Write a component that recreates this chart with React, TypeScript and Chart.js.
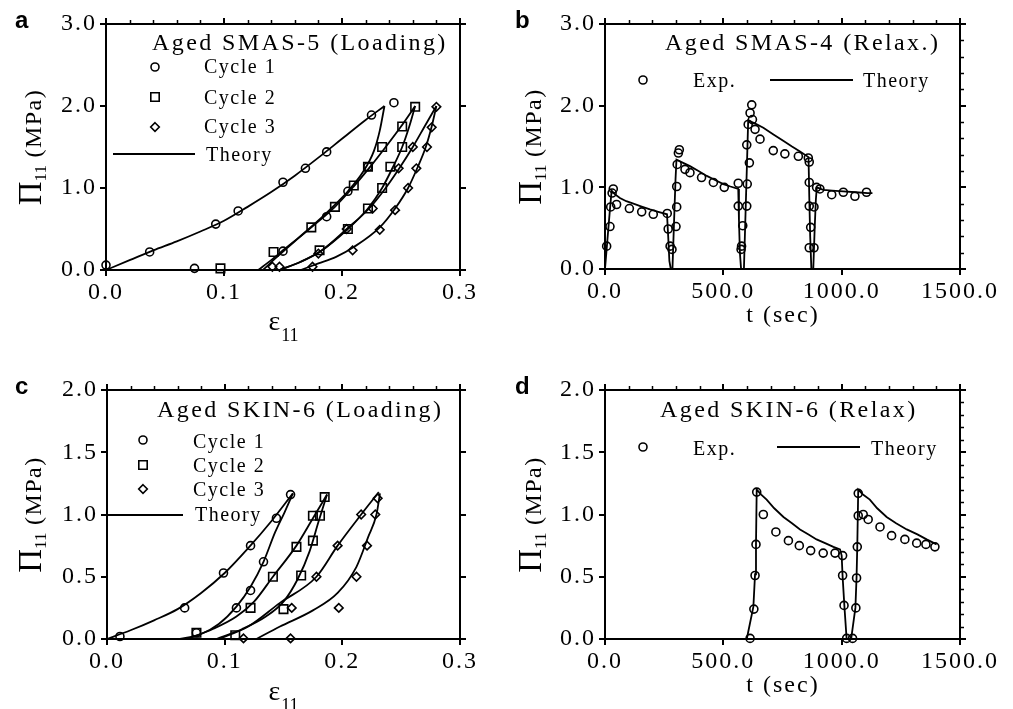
import React, { useEffect, useRef } from 'react';
import { Chart, registerables } from 'chart.js';

Chart.register(...registerables);

const SERIF = '"Liberation Serif", "Times New Roman", serif';
const SANS = '"Liberation Sans", Arial, sans-serif';

// ---------------- Panel a : Aged SMAS-5 (Loading) ----------------
const A_XTICKS = [0, 0.1, 0.2, 0.3];
const A_YTICKS = [0, 1, 2, 3];
const A_C1_X = [0, 0.037, 0.075, 0.093, 0.112, 0.15, 0.169, 0.187, 0.225, 0.244, 0.15, 0.187, 0.205, 0.222];
const A_C1_Y = [0.06, 0.22, 0.02, 0.56, 0.72, 1.07, 1.24, 1.44, 1.89, 2.04, 0.23, 0.65, 0.96, 1.26];
const A_C2_X = [0.097, 0.142, 0.174, 0.194, 0.21, 0.222, 0.234, 0.251, 0.262, 0.181, 0.205, 0.222, 0.234, 0.241, 0.251];
const A_C2_Y = [0.02, 0.22, 0.52, 0.77, 1.03, 1.26, 1.5, 1.75, 1.99, 0.24, 0.5, 0.75, 1.0, 1.26, 1.5];
const A_C3_X = [0.141, 0.147, 0.175, 0.209, 0.232, 0.245, 0.256, 0.263, 0.272, 0.276, 0.28, 0.18, 0.204, 0.226, 0.248, 0.26];
const A_C3_Y = [0.04, 0.04, 0.04, 0.24, 0.49, 0.73, 1.0, 1.24, 1.5, 1.74, 1.99, 0.2, 0.5, 0.75, 1.24, 1.5];
const A_T1_X = [0, 0.02, 0.04, 0.06, 0.08, 0.1, 0.12, 0.14, 0.16, 0.18, 0.2, 0.22, 0.236];
const A_T1_Y = [0, 0.12, 0.24, 0.35, 0.47, 0.6, 0.77, 0.95, 1.15, 1.37, 1.6, 1.83, 2.0];
const A_T2_X = [0.129, 0.14, 0.15, 0.162, 0.175, 0.19, 0.205, 0.218, 0.227, 0.232, 0.236];
const A_T2_Y = [0, 0.12, 0.24, 0.38, 0.54, 0.74, 0.96, 1.2, 1.45, 1.7, 2.0];
const A_T3_X = [0.133, 0.145, 0.16, 0.174, 0.194, 0.21, 0.224, 0.237, 0.25, 0.262];
const A_T3_Y = [0, 0.16, 0.35, 0.52, 0.77, 1.02, 1.26, 1.5, 1.75, 2.0];
const A_T4_X = [0.147, 0.165, 0.181, 0.205, 0.222, 0.234, 0.243, 0.251, 0.257, 0.262];
const A_T4_Y = [0, 0.1, 0.22, 0.5, 0.75, 1.0, 1.25, 1.5, 1.75, 2.0];
const A_T5_X = [0.147, 0.165, 0.183, 0.204, 0.223, 0.237, 0.249, 0.26, 0.27, 0.28];
const A_T5_Y = [0, 0.1, 0.24, 0.5, 0.75, 1.0, 1.25, 1.5, 1.75, 2.0];
const A_T6_X = [0.165, 0.18, 0.195, 0.21, 0.232, 0.245, 0.256, 0.264, 0.271, 0.276, 0.28];
const A_T6_Y = [0, 0.08, 0.16, 0.28, 0.52, 0.75, 1.0, 1.25, 1.5, 1.75, 2.0];

// ---------------- Panel b : Aged SMAS-4 (Relax.) ----------------
const B_XTICKS = [0, 500, 1000, 1500];
const B_YTICKS = [0, 1, 2, 3];
const B_EXP_T = [7, 21, 24, 35, 30, 49, 103, 155, 204, 263, 267, 275, 283, 300, 303, 303, 305, 314, 310, 338, 359, 408, 458, 504, 563, 563, 582, 577, 575, 599, 601, 610, 599, 605, 613, 620, 623, 634, 655, 711, 760, 817, 859, 863, 863, 863, 869, 863, 883, 883, 894, 908, 958, 1007, 1056, 1105];
const B_EXP_V = [0.28, 0.52, 0.76, 0.98, 0.93, 0.79, 0.74, 0.70, 0.67, 0.68, 0.49, 0.28, 0.24, 0.52, 0.76, 1.01, 1.28, 1.46, 1.42, 1.22, 1.18, 1.12, 1.06, 1.0, 1.05, 0.77, 0.53, 0.28, 0.24, 0.77, 1.04, 1.3, 1.52, 1.77, 1.91, 2.01, 1.83, 1.71, 1.59, 1.45, 1.41, 1.38, 1.36, 1.31, 1.06, 0.77, 0.51, 0.26, 0.26, 0.76, 1.0, 0.98, 0.91, 0.94, 0.89, 0.94];
const B_TH_T = [0, 10, 20, 28, 40, 63, 90, 120, 155, 190, 225, 262, 267, 272, 278, 285, 292, 298, 302, 330, 359, 395, 430, 465, 500, 530, 563, 566, 570, 575, 587, 594, 600, 605, 635, 669, 710, 753, 790, 824, 860, 863, 867, 872, 880, 886, 891, 895, 922, 960, 1007, 1060, 1110, 1130];
const B_TH_V = [0, 0.35, 0.7, 0.96, 0.92, 0.87, 0.83, 0.8, 0.765, 0.73, 0.7, 0.67, 0.4, 0.1, 0, 0, 0.6, 1.1, 1.34, 1.3, 1.26, 1.2, 1.14, 1.09, 1.04, 1.01, 0.98, 0.6, 0.2, 0, 0, 0.7, 1.3, 1.82, 1.78, 1.73, 1.65, 1.57, 1.5, 1.44, 1.37, 0.9, 0.4, 0, 0, 0.5, 0.85, 1.0, 0.97, 0.96, 0.95, 0.94, 0.93, 0.93];

// ---------------- Panel c : Aged SKIN-6 (Loading) ----------------
const C_XTICKS = [0, 0.1, 0.2, 0.3];
const C_YTICKS = [0, 0.5, 1, 1.5, 2];
const C_C1_X = [0.011, 0.066, 0.076, 0.099, 0.11, 0.122, 0.122, 0.133, 0.144, 0.156];
const C_C1_Y = [0.02, 0.25, 0.05, 0.53, 0.25, 0.39, 0.75, 0.62, 0.97, 1.16];
const C_C2_X = [0.076, 0.109, 0.122, 0.141, 0.15, 0.161, 0.165, 0.175, 0.175, 0.181, 0.185];
const C_C2_Y = [0.05, 0.03, 0.25, 0.5, 0.24, 0.74, 0.51, 0.79, 0.99, 0.99, 1.14];
const C_C3_X = [0.116, 0.156, 0.157, 0.178, 0.196, 0.216, 0.23, 0.228, 0.221, 0.212, 0.197];
const C_C3_Y = [0.005, 0.005, 0.25, 0.5, 0.75, 1.0, 1.13, 1.0, 0.75, 0.5, 0.25];
const C_T1_X = [0, 0.02, 0.04, 0.06, 0.08, 0.1, 0.12, 0.14, 0.158];
const C_T1_Y = [0, 0.07, 0.15, 0.24, 0.37, 0.53, 0.73, 0.95, 1.17];
const C_T2_X = [0.062, 0.08, 0.095, 0.11, 0.122, 0.133, 0.143, 0.151, 0.158];
const C_T2_Y = [0, 0.04, 0.12, 0.26, 0.42, 0.62, 0.86, 1.02, 1.17];
const C_T3_X = [0.068, 0.09, 0.11, 0.125, 0.141, 0.161, 0.175, 0.187];
const C_T3_Y = [0, 0.08, 0.18, 0.3, 0.5, 0.75, 0.97, 1.16];
const C_T4_X = [0.093, 0.115, 0.135, 0.15, 0.162, 0.172, 0.18, 0.187];
const C_T4_Y = [0, 0.08, 0.18, 0.3, 0.48, 0.7, 0.95, 1.16];
const C_T5_X = [0.095, 0.12, 0.147, 0.178, 0.196, 0.216, 0.231];
const C_T5_Y = [0, 0.1, 0.29, 0.5, 0.75, 1.0, 1.18];
const C_T6_X = [0.127, 0.147, 0.175, 0.196, 0.212, 0.222, 0.229, 0.232];
const C_T6_Y = [0, 0.1, 0.23, 0.37, 0.58, 0.82, 1.0, 1.17];

// ---------------- Panel d : Aged SKIN-6 (Relax) ----------------
const D_XTICKS = [0, 500, 1000, 1500];
const D_YTICKS = [0, 0.5, 1, 1.5, 2];
const D_EXP_T = [613, 629, 634, 638, 641, 669, 722, 775, 821, 869, 922, 972, 1004, 1004, 1010, 1021, 1046, 1060, 1063, 1066, 1070, 1070, 1091, 1112, 1162, 1211, 1267, 1317, 1356, 1394];
const D_EXP_V = [0.005, 0.24, 0.51, 0.76, 1.18, 1.0, 0.86, 0.79, 0.75, 0.71, 0.69, 0.69, 0.67, 0.51, 0.27, 0.005, 0.005, 0.25, 0.49, 0.74, 1.17, 0.99, 1.0, 0.96, 0.9, 0.83, 0.8, 0.77, 0.76, 0.74];
const D_TH_T = [599, 627, 634, 638, 641, 660, 683, 715, 754, 790, 824, 860, 894, 930, 965, 993, 1000, 1004, 1012, 1021, 1030, 1040, 1058, 1063, 1066, 1070, 1090, 1119, 1150, 1190, 1230, 1275, 1320, 1359, 1401];
const D_TH_V = [0, 0.26, 0.52, 0.76, 1.2, 1.16, 1.12, 1.05, 0.98, 0.93, 0.88, 0.84, 0.8, 0.77, 0.74, 0.72, 0.67, 0.5, 0.25, 0, 0, 0, 0.25, 0.5, 0.75, 1.2, 1.16, 1.12, 1.05, 0.98, 0.93, 0.88, 0.84, 0.8, 0.76];

// ---------------- helpers ----------------
type Mk = 'circle' | 'rect' | 'rectRot';
const RAD: Record<Mk, number> = { circle: 4, rect: 6, rectRot: 4.3 };

const toPts = (xs: number[], ys: number[]) => xs.map((x, i) => ({ x, y: ys[i] }));

function markers(label: string, xs: number[], ys: number[], style: Mk) {
  return {
    label,
    data: toPts(xs, ys),
    showLine: false,
    pointStyle: style,
    pointRadius: RAD[style],
    pointHoverRadius: RAD[style],
    borderColor: '#000',
    backgroundColor: 'rgba(0,0,0,0)',
    pointBorderColor: '#000',
    pointBackgroundColor: 'rgba(0,0,0,0)',
    pointBorderWidth: 1.6,
    borderWidth: 1.6,
    clip: false,
  };
}

function theory(xs: number[], ys: number[], smooth: boolean) {
  return {
    label: 'Theory',
    data: toPts(xs, ys),
    showLine: true,
    borderColor: '#000',
    backgroundColor: '#000',
    borderWidth: 1.8,
    pointRadius: 0,
    pointHoverRadius: 0,
    cubicInterpolationMode: smooth ? 'monotone' : 'default',
    tension: 0,
    fill: false,
    clip: false,
  };
}

function scalesFor(o: any) {
  const grid = { drawOnChartArea: false, drawTicks: true, tickLength: 6, color: '#000', lineWidth: 2 };
  const border = { display: true, color: '#000', width: 2 };
  const font = { family: SERIF, size: 24 };
  const setTicks = (vals: number[]) => (s: any) => { s.ticks = vals.map((value) => ({ value })); };
  return {
    x: {
      type: 'linear', position: 'bottom', min: 0, max: o.xmax, grid, border,
      ticks: { autoSkip: false, maxRotation: 0, color: '#000', font, padding: 2, callback: (v: any) => Number(v).toFixed(1) },
      afterBuildTicks: setTicks(o.xticks),
      afterFit: (s: any) => { s.height = o.xH; },
    },
    y: {
      type: 'linear', position: 'left', min: 0, max: o.ymax, grid, border,
      ticks: { autoSkip: false, color: '#000', font, padding: 3, callback: (v: any) => Number(v).toFixed(1) },
      afterBuildTicks: setTicks(o.yticks),
      afterFit: (s: any) => { s.width = o.yW; },
    },
    x2: {
      type: 'linear', position: 'top', min: 0, max: o.xmax, grid, border,
      ticks: { display: false },
      afterBuildTicks: setTicks(o.xticks),
      afterFit: (s: any) => { s.height = o.topH; },
    },
    y2: {
      type: 'linear', position: 'right', min: 0, max: o.ymax, grid, border,
      ticks: { display: false },
      afterBuildTicks: setTicks(o.yticks),
      afterFit: (s: any) => { s.width = o.rightW; },
    },
  };
}

function drawMarker(ctx: CanvasRenderingContext2D, kind: string, x: number, y: number) {
  ctx.beginPath();
  if (kind === 'circle') {
    ctx.arc(x, y, 4, 0, Math.PI * 2);
  } else if (kind === 'rect') {
    ctx.rect(x - 4.2, y - 4.2, 8.4, 8.4);
  } else {
    ctx.moveTo(x, y - 4.3); ctx.lineTo(x + 4.3, y); ctx.lineTo(x, y + 4.3); ctx.lineTo(x - 4.3, y); ctx.closePath();
  }
  ctx.stroke();
}

function text(ctx: any, s: string, x: number, y: number, size: number, spacing: number, family = SERIF, weight = '', align: CanvasTextAlign = 'left') {
  ctx.font = `${weight} ${size}px ${family}`.trim();
  ctx.letterSpacing = `${spacing}px`;
  ctx.textAlign = align;
  ctx.textBaseline = 'alphabetic';
  ctx.fillText(s, x, y);
}

function deco(p: any) {
  return {
    id: 'deco',
    beforeDraw(chart: any) {
      chart.ctx.letterSpacing = '2px';
    },
    afterDraw(chart: any) {
      const ctx = chart.ctx;
      const ca = chart.chartArea;
      const xs = chart.scales.x;
      const ys = chart.scales.y;
      ctx.save();
      ctx.strokeStyle = '#000';
      ctx.fillStyle = '#000';
      ctx.lineWidth = 1.5;
      const nT = Math.round(p.xmax / p.topMinor);
      for (let i = 1; i < nT; i++) {
        const v = i * p.topMinor;
        if (Math.abs(v / p.topMajor - Math.round(v / p.topMajor)) < 1e-6) continue;
        const px = Math.round(xs.getPixelForValue(v)) + 0.5;
        ctx.beginPath(); ctx.moveTo(px, ca.top - 1); ctx.lineTo(px, ca.top - 4); ctx.stroke();
      }
      if (p.rightMinor) {
        const nR = Math.round(p.ymax / p.rightMinor);
        for (let i = 1; i < nR; i++) {
          const v = i * p.rightMinor;
          if (Math.abs(v / p.rightMajor - Math.round(v / p.rightMajor)) < 1e-6) continue;
          const py = Math.round(ys.getPixelForValue(v)) + 0.5;
          ctx.beginPath(); ctx.moveTo(ca.right + 1, py); ctx.lineTo(ca.right + 4, py); ctx.stroke();
        }
      }
      text(ctx, p.letter, p.lx, p.ly, 24, 0, SANS, 'bold');
      text(ctx, p.title, p.tx, p.ty, 24, 2.4);
      ctx.lineWidth = 1.6;
      for (const it of p.legend) {
        if (it.kind === 'line') {
          ctx.lineWidth = 2;
          ctx.beginPath(); ctx.moveTo(it.x, it.y); ctx.lineTo(it.x2, it.y); ctx.stroke();
          ctx.lineWidth = 1.6;
        } else {
          drawMarker(ctx, it.kind, it.x, it.y);
        }
        text(ctx, it.text, it.textX, it.textY, 20, 1.5);
      }
      const cy = (ca.top + ca.bottom) / 2;
      ctx.save();
      ctx.translate(p.yTitleX, cy);
      ctx.rotate(-Math.PI / 2);
      const parts = [
        { s: 'Π', size: 33, dy: 0, sp: 0 },
        { s: '11', size: 17, dy: 5, sp: 0 },
        { s: ' (MPa)', size: 24, dy: 0, sp: 1.5 },
      ];
      let total = 0;
      for (const q of parts) { ctx.font = `${q.size}px ${SERIF}`; ctx.letterSpacing = `${q.sp}px`; total += ctx.measureText(q.s).width; }
      let cx = -total / 2;
      for (const q of parts) {
        text(ctx, q.s, cx, q.dy, q.size, q.sp);
        ctx.font = `${q.size}px ${SERIF}`; ctx.letterSpacing = `${q.sp}px`;
        cx += ctx.measureText(q.s).width;
      }
      ctx.restore();
      if (p.xTitle === 'eps') {
        ctx.font = `28px ${SERIF}`; ctx.letterSpacing = '0px';
        const w1 = ctx.measureText('ε').width;
        ctx.font = `18px ${SERIF}`;
        const w2 = ctx.measureText('11').width;
        const x0 = p.xTitleX - (w1 + w2) / 2;
        text(ctx, 'ε', x0, p.xTitleY, 28, 0);
        text(ctx, '11', x0 + w1 + 1, p.xTitleY + 11, 18, 0);
      } else {
        text(ctx, 't (sec)', p.xTitleX, p.xTitleY, 24, 2, SERIF, '', 'center');
      }
      ctx.letterSpacing = '0px';
      ctx.restore();
    },
  };
}

function makeConfig(datasets: any[], sc: any, dc: any) {
  return {
    type: 'scatter',
    data: { datasets },
    options: {
      animation: false,
      responsive: false,
      maintainAspectRatio: false,
      devicePixelRatio: 1,
      layout: { padding: 0 },
      events: [],
      plugins: { legend: { display: false }, tooltip: { enabled: false }, title: { display: false } },
      scales: scalesFor(sc),
    },
    plugins: [deco({ ...dc, xmax: sc.xmax, ymax: sc.ymax })],
  };
}

const PANELS = [
  {
    left: 0, top: 0, width: 500, height: 355,
    build: () => makeConfig(
      [
        markers('Cycle 1', A_C1_X, A_C1_Y, 'circle'),
        markers('Cycle 2', A_C2_X, A_C2_Y, 'rect'),
        markers('Cycle 3', A_C3_X, A_C3_Y, 'rectRot'),
        theory(A_T1_X, A_T1_Y, true),
        theory(A_T2_X, A_T2_Y, true),
        theory(A_T3_X, A_T3_Y, true),
        theory(A_T4_X, A_T4_Y, true),
        theory(A_T5_X, A_T5_Y, true),
        theory(A_T6_X, A_T6_Y, true),
      ],
      { xmax: 0.3, ymax: 3, xticks: A_XTICKS, yticks: A_YTICKS, yW: 106, xH: 85, topH: 24, rightW: 40 },
      {
        letter: 'a', lx: 15, ly: 28,
        title: 'Aged SMAS-5 (Loading)', tx: 152, ty: 50,
        legend: [
          { kind: 'circle', x: 155, y: 67, text: 'Cycle 1', textX: 204, textY: 73 },
          { kind: 'rect', x: 155, y: 97, text: 'Cycle 2', textX: 204, textY: 104 },
          { kind: 'rectRot', x: 155, y: 127, text: 'Cycle 3', textX: 204, textY: 133 },
          { kind: 'line', x: 113, x2: 195, y: 154, text: 'Theory', textX: 206, textY: 161 },
        ],
        yTitleX: 41, xTitle: 'eps', xTitleX: 283, xTitleY: 330,
        topMinor: 0.02, topMajor: 0.1, rightMinor: 0, rightMajor: 1,
      },
    ),
  },
  {
    left: 500, top: 0, width: 513, height: 355,
    build: () => makeConfig(
      [
        markers('Exp.', B_EXP_T, B_EXP_V, 'circle'),
        theory(B_TH_T, B_TH_V, false),
      ],
      { xmax: 1500, ymax: 3, xticks: B_XTICKS, yticks: B_YTICKS, yW: 105, xH: 86, topH: 24, rightW: 53 },
      {
        letter: 'b', lx: 15, ly: 28,
        title: 'Aged SMAS-4 (Relax.)', tx: 165, ty: 50,
        legend: [
          { kind: 'circle', x: 143, y: 80, text: 'Exp.', textX: 193, textY: 87 },
          { kind: 'line', x: 270, x2: 353, y: 80, text: 'Theory', textX: 363, textY: 87 },
        ],
        yTitleX: 41, xTitle: 't', xTitleX: 283, xTitleY: 322,
        topMinor: 100, topMajor: 500, rightMinor: 0.2, rightMajor: 1,
      },
    ),
  },
  {
    left: 0, top: 355, width: 500, height: 354,
    build: () => makeConfig(
      [
        markers('Cycle 1', C_C1_X, C_C1_Y, 'circle'),
        markers('Cycle 2', C_C2_X, C_C2_Y, 'rect'),
        markers('Cycle 3', C_C3_X, C_C3_Y, 'rectRot'),
        theory(C_T1_X, C_T1_Y, true),
        theory(C_T2_X, C_T2_Y, true),
        theory(C_T3_X, C_T3_Y, true),
        theory(C_T4_X, C_T4_Y, true),
        theory(C_T5_X, C_T5_Y, true),
        theory(C_T6_X, C_T6_Y, true),
      ],
      { xmax: 0.3, ymax: 2, xticks: C_XTICKS, yticks: C_YTICKS, yW: 107, xH: 70, topH: 35, rightW: 40 },
      {
        letter: 'c', lx: 15, ly: 39,
        title: 'Aged SKIN-6 (Loading)', tx: 157, ty: 62,
        legend: [
          { kind: 'circle', x: 143, y: 85, text: 'Cycle 1', textX: 193, textY: 93 },
          { kind: 'rect', x: 143, y: 110, text: 'Cycle 2', textX: 193, textY: 117 },
          { kind: 'rectRot', x: 143, y: 134, text: 'Cycle 3', textX: 193, textY: 141 },
          { kind: 'line', x: 107, x2: 183, y: 160, text: 'Theory', textX: 195, textY: 166 },
        ],
        yTitleX: 41, xTitle: 'eps', xTitleX: 283, xTitleY: 345,
        topMinor: 0.02, topMajor: 0.1, rightMinor: 0, rightMajor: 0.5,
      },
    ),
  },
  {
    left: 500, top: 355, width: 513, height: 354,
    build: () => makeConfig(
      [
        markers('Exp.', D_EXP_T, D_EXP_V, 'circle'),
        theory(D_TH_T, D_TH_V, false),
      ],
      { xmax: 1500, ymax: 2, xticks: D_XTICKS, yticks: D_YTICKS, yW: 105, xH: 70, topH: 35, rightW: 53 },
      {
        letter: 'd', lx: 15, ly: 39,
        title: 'Aged SKIN-6 (Relax)', tx: 160, ty: 62,
        legend: [
          { kind: 'circle', x: 143, y: 92, text: 'Exp.', textX: 193, textY: 100 },
          { kind: 'line', x: 277, x2: 360, y: 92, text: 'Theory', textX: 371, textY: 100 },
        ],
        yTitleX: 41, xTitle: 't', xTitleX: 283, xTitleY: 337,
        topMinor: 100, topMajor: 500, rightMinor: 0.1, rightMajor: 0.5,
      },
    ),
  },
];

function Panel(props: any) {
  const ref = useRef<HTMLCanvasElement>(null);
  useEffect(() => {
    const chart = new Chart(ref.current as any, props.build() as any);
    return () => chart.destroy();
  }, []);
  return (
    <canvas
      ref={ref}
      width={props.width}
      height={props.height}
      style={{ position: 'absolute', left: props.left, top: props.top, width: props.width, height: props.height, display: 'block' }}
    />
  );
}

export default function App() {
  return (
    <div style={{ position: 'absolute', left: 0, top: 0, width: 1013, height: 709, background: '#fff', overflow: 'hidden' }}>
      {PANELS.map((p, i) => (
        <Panel key={i} left={p.left} top={p.top} width={p.width} height={p.height} build={p.build} />
      ))}
    </div>
  );
}
